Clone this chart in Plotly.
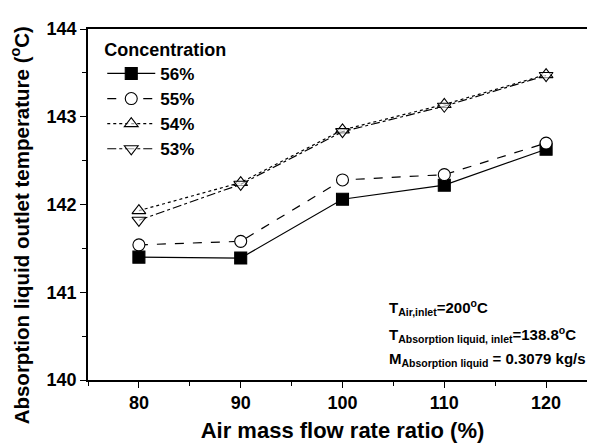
import plotly.graph_objects as go

x_ratio = [80, 90, 100, 110, 120]
c56 = [141.40, 141.39, 142.06, 142.22, 142.63]
c55 = [141.54, 141.58, 142.28, 142.34, 142.70]
c54 = [141.93, 142.25, 142.85, 143.14, 143.48]
c53 = [141.82, 142.23, 142.83, 143.12, 143.47]
x_ticks = [80, 90, 100, 110, 120]
y_ticks = [140, 141, 142, 143, 144]

FONT = "Liberation Sans"

series = [
    ("56%", c56, "solid", "square", "black"),
    ("55%", c55, "dash", "circle", "white"),
    ("54%", c54, "dot", "triangle-up", "rgba(255,255,255,0.6)"),
    ("53%", c53, "dashdot", "triangle-down", "rgba(255,255,255,0.6)"),
]

fig = go.Figure()
for name, ys, dash, sym, fill in series:
    fig.add_trace(go.Scatter(
        x=x_ratio, y=ys, name=f"<b>{name}</b>", mode="lines+markers",
        line=dict(color="black", width=1.2, dash=dash),
        marker=dict(symbol=sym, size=12, color=fill,
                    line=dict(color="black", width=1.1)),
    ))

fig.update_layout(
    width=589, height=436,
    margin=dict(l=80, r=0, t=21, b=64, autoexpand=False),
    plot_bgcolor="white", paper_bgcolor="white",
    font=dict(family=FONT, color="black"),
    showlegend=True,
    legend=dict(
        x=0.028, y=0.99, xanchor="left", yanchor="top",
        bgcolor="rgba(0,0,0,0)",
        title=dict(text="<b>Concentration</b>", font=dict(size=18, family=FONT)),
        font=dict(size=17, family=FONT),
        tracegroupgap=0, itemwidth=48,
    ),
    xaxis=dict(
        range=[75, 125], tickvals=x_ticks, ticktext=[f"<b>{v}</b>" for v in x_ticks],
        showgrid=False, zeroline=False, automargin=False,
        showline=True, linecolor="black", linewidth=1.5, mirror=True,
        ticks="outside", ticklen=6, tickwidth=1.2, tickcolor="black",
        minor=dict(dtick=5, tick0=75, ticks="outside", ticklen=4, tickwidth=1, tickcolor="black"),
        tickfont=dict(size=18, family=FONT),
        title=dict(text="<b>Air mass flow rate ratio (%)</b>", font=dict(size=22, family=FONT), standoff=10),
    ),
    yaxis=dict(
        range=[140, 144], tickvals=y_ticks, ticktext=[f"<b>{v}</b>" for v in y_ticks],
        showgrid=False, zeroline=False, automargin=False,
        showline=True, linecolor="black", linewidth=1.5,
        ticks="outside", ticklen=6, tickwidth=1.2, tickcolor="black",
        minor=dict(dtick=0.5, ticks="outside", ticklen=4, tickwidth=1, tickcolor="black"),
        tickfont=dict(size=18, family=FONT),
    ),
)

fig.add_annotation(
    x=-0.134, y=0.44, xref="paper", yref="paper", textangle=-90, showarrow=False,
    text="<b>Absorption liquid outlet temperature (<sup>o</sup>C)</b>",
    xanchor="center", yanchor="middle", font=dict(size=20.5, family=FONT))

notes = [
    ("<b>T<sub>Air,inlet</sub>=200<sup>o</sup>C</b>", 140.83),
    ("<b>T<sub>Absorption liquid, inlet</sub>=138.8<sup>o</sup>C</b>", 140.52),
    ("<b>M<sub>Absorption liquid</sub> = 0.3079 kg/s</b>", 140.23),
]
for txt, yv in notes:
    fig.add_annotation(x=104.4, y=yv, xref="x", yref="y", text=txt, showarrow=False,
                       xanchor="left", yanchor="middle", font=dict(size=15, family=FONT))

fig.write_html("out.html")
